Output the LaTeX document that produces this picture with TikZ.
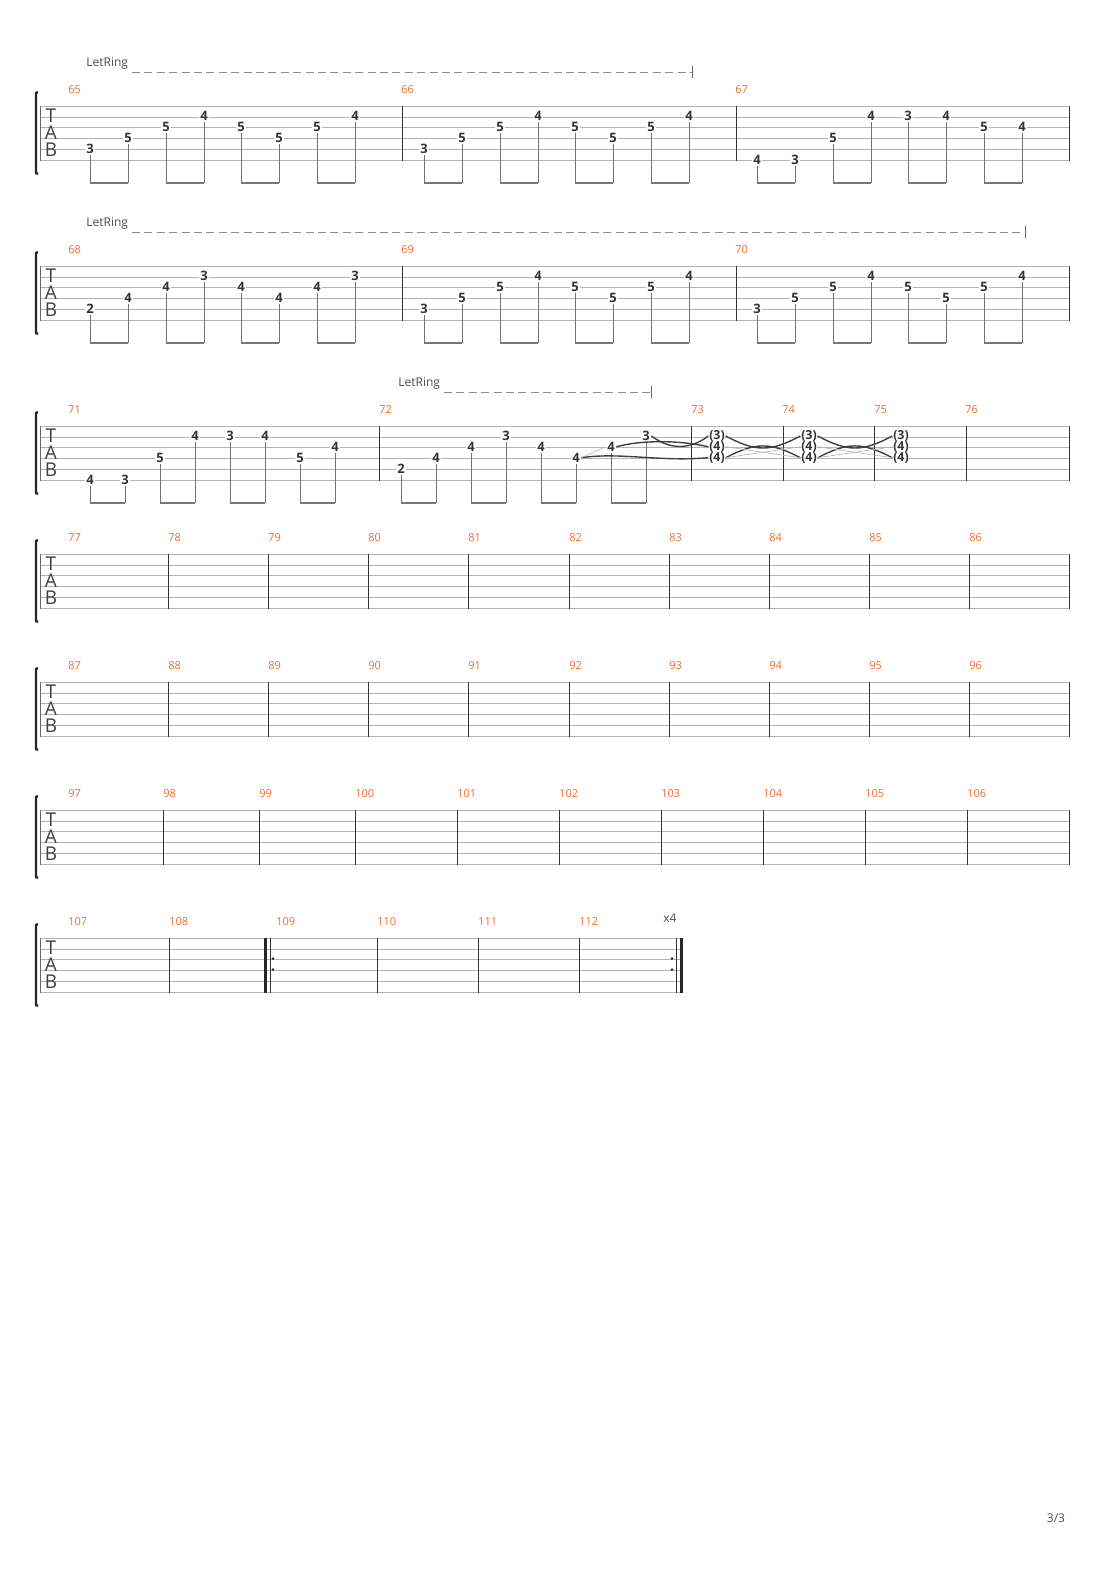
\documentclass[tikz,border=0pt]{standalone}
\usepackage{fontspec}
\setmainfont{Open Sans}
\definecolor{barnum}{HTML}{F26A2E}
\definecolor{staffgray}{HTML}{B4B4B4}
\definecolor{beamgray}{HTML}{777777}
\tikzset{
  fret/.style={fill=white,inner sep=0.6pt,font=\fontsize{6.5}{7}\selectfont\bfseries,text=black!80},
  tied/.style={fill=white,inner sep=0.3pt,font=\fontsize{6.2}{7}\selectfont\bfseries,text=black!80},
  barno/.style={anchor=west,inner sep=0pt,text=barnum,font=\fontsize{5.5}{6}\selectfont},
  tabletter/.style={inner sep=0pt,font=\fontsize{9.5}{10}\selectfont,text=black!75},
  letring/.style={anchor=west,inner sep=0pt,font=\fontsize{6}{7}\selectfont,text=black!70},
  ringline/.style={dashed,dash pattern=on 4pt off 2.2pt,black!45,line width=0.4pt},
  stem/.style={black!55,line width=0.4pt},
  beam/.style={beamgray,line width=1.4pt}
}
% staff: top, right end
\newcommand\tabstaff[2]{%
  \foreach \s in {0,...,5} \draw[staffgray,line width=0.35pt] (40,#1+\s*10.9) -- (#2,#1+\s*10.9);
  \draw[black!60,line width=0.4pt] (40,#1) -- (40,#1+54.5);
  \draw[black!85,line width=1.2pt] (38,#1-14) -- (36,#1-13) -- (36,#1+67) -- (38,#1+68);
  \node[tabletter] at (51,#1+10) {T};
  \node[tabletter] at (51,#1+27) {A};
  \node[tabletter] at (51,#1+44) {B};
}
% barline: top, x
\newcommand\barat[3]{%
  \draw[black!80,line width=0.45pt] (#2,#1) -- (#2,#1+54.5);
}
% note: name, x, string, fret (uses \T)
\newcommand\nt[4]{\node[fret] (#1) at (#2,\T+#3*10.9-11.9) {#4};}
\newcommand\pair[2]{%
  \draw[stem] (#1.south) -- (#1.south |- 0,\T+77);
  \draw[stem] (#2.south) -- (#2.south |- 0,\T+77);
  \draw[beam] (#1.south |- 0,\T+77) -- (#2.south |- 0,\T+77);
}
\begin{document}
\begin{tikzpicture}[x=0.5pt,y=-0.5pt]
\useasboundingbox (0,0) rectangle (1110,1570);
% system 1
\def\T{106}
\tabstaff{106}{1069}
\foreach \x in {402,736,1069} \barat{106}{\x}{};
\foreach \n/\x in {65/68,66/401,67/735} \node[barno] at (\x,90) {\n};
\node[letring] (lr1) at (86,64) {LetRing};
\draw[ringline] (132,72) -- (692,72);
\draw[black!60] (692,66) -- (692,78);
\foreach \o/\m in {0/a,334/b} {
  \nt{\m1}{90+\o}{5}{3} \nt{\m2}{128+\o}{4}{5} \nt{\m3}{166+\o}{3}{5} \nt{\m4}{204+\o}{2}{4}
  \nt{\m5}{241+\o}{3}{5} \nt{\m6}{279+\o}{4}{5} \nt{\m7}{317+\o}{3}{5} \nt{\m8}{355+\o}{2}{4}
  \pair{\m1}{\m2} \pair{\m3}{\m4} \pair{\m5}{\m6} \pair{\m7}{\m8}
}
\nt{c1}{757}{6}{4} \nt{c2}{795}{6}{3} \nt{c3}{833}{4}{5} \nt{c4}{871}{2}{4}
\nt{c5}{908}{2}{3} \nt{c6}{946}{2}{4} \nt{c7}{984}{3}{5} \nt{c8}{1022}{3}{4}
\pair{c1}{c2} \pair{c3}{c4} \pair{c5}{c6} \pair{c7}{c8}
% system 2
\def\T{266}
\tabstaff{266}{1069}
\foreach \x in {402,736,1069} \barat{266}{\x}{};
\foreach \n/\x in {68/68,69/401,70/735} \node[barno] at (\x,250) {\n};
\node[letring] (lr2) at (86,224) {LetRing};
\draw[ringline] (132,232) -- (1025,232);
\draw[black!60] (1025,226) -- (1025,238);
\nt{d1}{90}{5}{2} \nt{d2}{128}{4}{4} \nt{d3}{166}{3}{4} \nt{d4}{204}{2}{3}
\nt{d5}{241}{3}{4} \nt{d6}{279}{4}{4} \nt{d7}{317}{3}{4} \nt{d8}{355}{2}{3}
\pair{d1}{d2} \pair{d3}{d4} \pair{d5}{d6} \pair{d7}{d8}
\foreach \o/\m in {334/e,667/f} {
  \nt{\m1}{90+\o}{5}{3} \nt{\m2}{128+\o}{4}{5} \nt{\m3}{166+\o}{3}{5} \nt{\m4}{204+\o}{2}{4}
  \nt{\m5}{241+\o}{3}{5} \nt{\m6}{279+\o}{4}{5} \nt{\m7}{317+\o}{3}{5} \nt{\m8}{355+\o}{2}{4}
  \pair{\m1}{\m2} \pair{\m3}{\m4} \pair{\m5}{\m6} \pair{\m7}{\m8}
}
% system 3
\def\T{426}
\tabstaff{426}{1069}
\foreach \x in {379,691,783,874,966,1069} \barat{426}{\x}{};
\foreach \n/\x in {71/68,72/379,73/691,74/782,75/874,76/965} \node[barno] at (\x,410) {\n};
\node[letring] (lr3) at (398,384) {LetRing};
\draw[ringline] (444,392) -- (651,392);
\draw[black!60] (651,386) -- (651,398);
\nt{g1}{90}{6}{4} \nt{g2}{125}{6}{3} \nt{g3}{160}{4}{5} \nt{g4}{195}{2}{4}
\nt{g5}{230}{2}{3} \nt{g6}{265}{2}{4} \nt{g7}{300}{4}{5} \nt{g8}{335}{3}{4}
\pair{g1}{g2} \pair{g3}{g4} \pair{g5}{g6} \pair{g7}{g8}
\nt{h1}{401}{5}{2} \nt{h2}{436}{4}{4} \nt{h3}{471}{3}{4} \nt{h4}{506}{2}{3}
\nt{h5}{541}{3}{4} \nt{h6}{576}{4}{4} \nt{h7}{611}{3}{4} \nt{h8}{646}{2}{3}
\pair{h1}{h2} \pair{h3}{h4} \pair{h5}{h6} \pair{h7}{h8}
\foreach \m/\x in {1/717,2/809,3/901} {
  \node[tied] (u\m) at (\x,436) {(3)};
  \node[tied] (v\m) at (\x,446.8) {(4)};
  \node[tied] (w\m) at (\x,457.7) {(4)};
}
% ties
\draw[black!75,line width=0.7pt] (h8.east) .. controls (670,450) and (690,450) .. (u1.west);
\draw[black!75,line width=0.7pt] (h7.east) .. controls (640,440) and (680,440) .. (v1.west);
\draw[black!75,line width=0.7pt] (h6.east) .. controls (620,452) and (660,462) .. (w1.west);
\draw[black!30,line width=0.3pt] (h6.east) -- (h7.west);
\foreach \a/\b in {1/2,2/3} {
  \draw[black!75,line width=0.7pt] (u\a.east) .. controls ([xshift=15]u\a.east |- 0,452) and ([xshift=-15]u\b.west |- 0,452) .. (u\b.west);
  \draw[black!75,line width=0.7pt] (w\a.east) .. controls ([xshift=15]w\a.east |- 0,442) and ([xshift=-15]w\b.west |- 0,442) .. (w\b.west);
  \draw[black!30,line width=0.3pt] (v\a.east) -- (w\b.west);
  \draw[black!30,line width=0.3pt] (w\a.east) -- (v\b.west);
}
% systems 4 and 5
\foreach \T/\f in {554/77,682/87} {
  \tabstaff{\T}{1069}
  \foreach \x in {168,268,368,468,569,669,769,869,969,1069} \barat{\T}{\x}{};
  \foreach \x [count=\i from 0] in {68,168,268,368,468,569,669,769,869,969} {
    \pgfmathtruncatemacro\num{\f+\i}
    \node[barno] at (\x,\T-16) {\num};
  }
}
% system 6
\tabstaff{810}{1069}
\foreach \x in {163,259,355,457,559,661,763,865,967,1069} \barat{810}{\x}{};
\foreach \x [count=\i from 0] in {68,163,259,355,457,559,661,763,865,967} {
  \pgfmathtruncatemacro\num{97+\i}
  \node[barno] at (\x,794) {\num};
}
% system 7
\tabstaff{938}{682}
\foreach \x in {169,377,478,579} \barat{938}{\x}{};
\foreach \x [count=\i from 0] in {68,169,276,377,478,579} {
  \pgfmathtruncatemacro\num{107+\i}
  \node[barno] at (\x,922) {\num};
}
\draw[black!85,line width=1.5pt] (265,938) -- (265,992.5);
\draw[black!80,line width=0.45pt] (270,938) -- (270,992.5);
\fill[black!80] (273,958.5) circle (1.5) (273,969.5) circle (1.5);
\draw[black!80,line width=0.45pt] (676,938) -- (676,992.5);
\draw[black!85,line width=1.5pt] (681,938) -- (681,992.5);
\fill[black!80] (672,958.5) circle (1.5) (672,969.5) circle (1.5);
\node[letring] (rep) at (663,918) {x4};
% page number
\node[inner sep=0pt,font=\fontsize{6}{7}\selectfont,text=black!70] (pg) at (1056,1518) {3/3};
\end{tikzpicture}
\end{document}
